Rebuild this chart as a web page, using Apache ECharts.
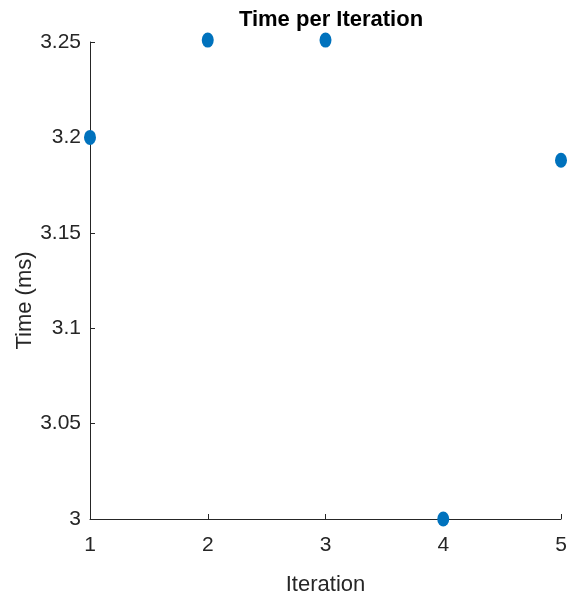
<!DOCTYPE html>
<html>
<head>
<meta charset="utf-8">
<script src="https://cdn.jsdelivr.net/npm/echarts@6/dist/echarts.min.js"></script>
<style>
  html, body { margin: 0; padding: 0; background: #fff; }
  #chart { width: 568px; height: 598px; }
</style>
</head>
<body>
<div id="chart"></div>
<script>
// data
var iterations = [1, 2, 3, 4, 5];
var timesMs = [3.2, 3.251, 3.251, 3.0, 3.188];
var yTicks = { min: 3, max: 3.25, step: 0.05 };

var axisColor = '#262626';
var font = '"Liberation Sans Narrow", "Liberation Sans", Arial, sans-serif';

var chart = echarts.init(document.getElementById('chart'));

chart.setOption({
  animation: false,
  backgroundColor: '#fff',
  title: {
    text: 'Time per Iteration',
    left: 326,
    top: 4,
    textAlign: 'center',
    textStyle: {
      fontFamily: font,
      fontSize: 22,
      fontWeight: 'bold',
      color: '#000'
    }
  },
  grid: { left: 90, right: 7, top: 42, bottom: 79, containLabel: false, outerBoundsMode: 'none' },
  xAxis: {
    type: 'value',
    min: 1,
    max: 5,
    interval: 1,
    name: 'Iteration',
    nameLocation: 'middle',
    nameGap: 55,
    nameMoveOverlap: false,
    nameTextStyle: { fontFamily: font, fontSize: 22, color: axisColor },
    axisLine: { lineStyle: { color: axisColor, width: 1 } },
    axisTick: { inside: true, length: 5, lineStyle: { color: axisColor } },
    axisLabel: { fontFamily: font, fontSize: 21, color: axisColor, margin: 16 },
    splitLine: { show: false }
  },
  yAxis: {
    type: 'value',
    min: yTicks.min,
    max: yTicks.max,
    interval: yTicks.step,
    name: 'Time (ms)',
    nameLocation: 'middle',
    nameGap: 54,
    nameMoveOverlap: false,
    nameTextStyle: { fontFamily: font, fontSize: 22, color: axisColor, padding: [0, 40, 0, 0] },
    axisLine: { show: true, lineStyle: { color: axisColor, width: 1 } },
    axisTick: { show: true, inside: true, length: 5, lineStyle: { color: axisColor } },
    axisLabel: { fontFamily: font, fontSize: 21, color: axisColor, margin: 9 },
    splitLine: { show: false }
  },
  series: [{
    type: 'scatter',
    data: iterations.map(function (x, i) { return [x, timesMs[i]]; }),
    symbol: 'circle',
    symbolSize: [12, 15],
    clip: false,
    itemStyle: { color: '#0072BD', opacity: 1 },
    silent: true
  }]
});
</script>
</body>
</html>
